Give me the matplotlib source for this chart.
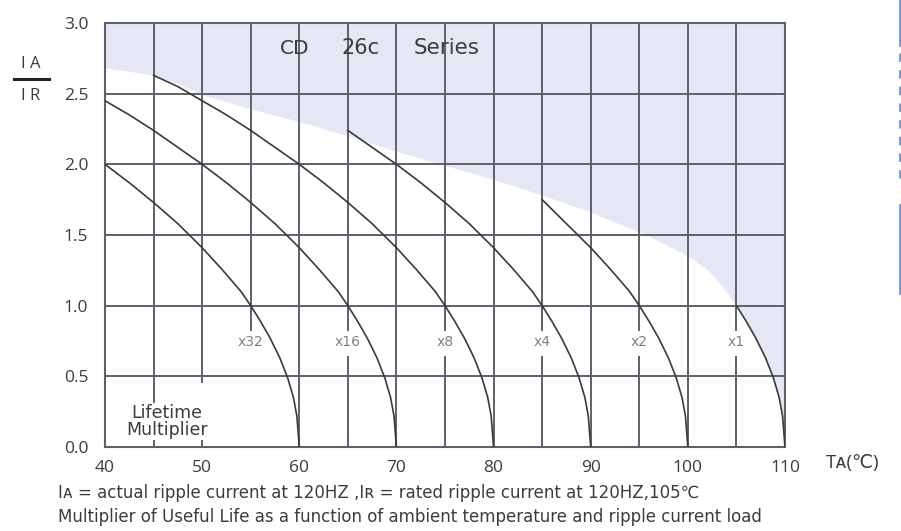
import matplotlib
matplotlib.use("Agg")
import matplotlib.pyplot as plt
from matplotlib.lines import Line2D

plt.rcParams['font.family'] = ['Open Sans', 'DejaVu Sans']
wide = ['DejaVu Sans']

# Curves: ambient temperature (C) vs IA/IR
t_x32 = [40, 42.5, 45, 47.5, 50, 52, 54, 55, 56, 57, 58, 58.8, 59.4, 59.75, 60]
y_x32 = [2.00, 1.87, 1.73, 1.58, 1.41, 1.26, 1.10, 1.00, 0.89, 0.77, 0.63, 0.49, 0.35, 0.22, 0.0]

t_x16 = [40, 42.5, 45, 47.5, 50, 52.5, 55, 57.5, 60, 62, 64, 65, 66, 67, 68, 68.8, 69.4, 69.75, 70]
y_x16 = [2.45, 2.35, 2.24, 2.12, 2.00, 1.87, 1.73, 1.58, 1.41, 1.26, 1.10, 1.00, 0.89, 0.77, 0.63, 0.49, 0.35, 0.22, 0.0]

t_x8 = [45, 47.5, 50, 52.5, 55, 57.5, 60, 62.5, 65, 67.5, 70, 72, 74, 75, 76, 77, 78, 78.8, 79.4, 79.75, 80]
y_x8 = [2.63, 2.55, 2.45, 2.35, 2.24, 2.12, 2.00, 1.87, 1.73, 1.58, 1.41, 1.26, 1.10, 1.00, 0.89, 0.77, 0.63, 0.49, 0.35, 0.22, 0.0]

t_x4 = [65, 67.5, 70, 72.5, 75, 77.5, 80, 82, 84, 85, 86, 87, 88, 88.8, 89.4, 89.75, 90]
y_x4 = [2.24, 2.12, 2.00, 1.87, 1.73, 1.58, 1.41, 1.26, 1.10, 1.00, 0.89, 0.77, 0.63, 0.49, 0.35, 0.22, 0.0]

t_x2 = [85, 87.5, 90, 92, 94, 95, 96, 97, 98, 98.8, 99.4, 99.75, 100]
y_x2 = [1.75, 1.58, 1.41, 1.26, 1.10, 1.00, 0.89, 0.77, 0.63, 0.49, 0.35, 0.22, 0.0]

t_x1 = [105, 106, 107, 108, 108.8, 109.4, 109.75, 110]
y_x1 = [1.00, 0.89, 0.77, 0.63, 0.49, 0.35, 0.22, 0.0]

curves = [(t_x32, y_x32), (t_x16, y_x16), (t_x8, y_x8),
          (t_x4, y_x4), (t_x2, y_x2), (t_x1, y_x1)]

# upper edge of the white (allowed) region, then it follows the x1 curve
t_env = [40, 45, 47.5, 50, 55, 60, 65, 70, 75, 80, 85, 90, 92.5, 95, 97.5, 100, 101.5, 102.5, 103.5, 104.3, 105]
y_env = [2.68, 2.63, 2.57, 2.49, 2.39, 2.30, 2.20, 2.09, 1.99, 1.89, 1.78, 1.66, 1.59, 1.52, 1.44, 1.35, 1.28, 1.22, 1.14, 1.07, 1.00]

labels = ['x32', 'x16', 'x8', 'x4', 'x2', 'x1']
label_t = [55, 65, 75, 85, 95, 105]
label_y = 0.74

x_ticks = [40, 50, 60, 70, 80, 90, 100, 110]
y_ticks = [0.0, 0.5, 1.0, 1.5, 2.0, 2.5, 3.0]

grid_col = '#5d616c'
curve_col = '#3a3a3a'
text_col = '#3c3c3c'

fig = plt.figure(figsize=(9.01, 5.31), dpi=100)
ax = fig.add_axes([105/901, 84/531, 680/901, 424/531])
ax.set_xlim(40, 110)
ax.set_ylim(0, 3.0)

# shaded region above the envelope
shade_t = [40] + t_env + t_x1[1:] + [110, 110, 40]
shade_y = [3.0] + y_env + y_x1[1:] + [0.0, 3.0, 3.0]
ax.fill(shade_t, shade_y, color='#e6e7f5', lw=0, zorder=0)

# grid lines (some interrupted by the labels)
for yv in [0.5, 1.0, 1.5, 2.0, 2.5]:
    ax.axhline(yv, color=grid_col, lw=1.4, zorder=1)
for xv in range(45, 110, 5):
    if xv == 45:
        ax.plot([xv, xv], [0, 0.04], color=grid_col, lw=1.4, zorder=1)
        ax.plot([xv, xv], [0.32, 3.0], color=grid_col, lw=1.4, zorder=1)
    elif xv == 50:
        ax.plot([xv, xv], [0, 0.04], color=grid_col, lw=1.4, zorder=1)
        ax.plot([xv, xv], [0.46, 3.0], color=grid_col, lw=1.4, zorder=1)
    elif xv == 55:
        ax.plot([xv, xv], [0.83, 3.0], color=grid_col, lw=1.4, zorder=1)
    elif xv in label_t:
        ax.plot([xv, xv], [0, 0.64], color=grid_col, lw=1.4, zorder=1)
        ax.plot([xv, xv], [0.83, 3.0], color=grid_col, lw=1.4, zorder=1)
    else:
        ax.axvline(xv, color=grid_col, lw=1.4, zorder=1)

for s in ax.spines.values():
    s.set_color(grid_col)
    s.set_linewidth(1.5)

for t, y in curves:
    ax.plot(t, y, color=curve_col, lw=1.2, zorder=3)

for lab, xv in zip(labels, label_t):
    ax.text(xv, label_y, lab, ha='center', va='center', fontsize=10,
            color='#808080', family=wide, zorder=2)

ax.text(46.4, 0.18, 'Lifetime\nMultiplier', ha='center', va='center',
        fontsize=12.5, color=text_col, family=wide, linespacing=0.95, zorder=2)

ax.text(59.5, 2.82, 'CD', ha='center', va='center', fontsize=14.5, color=text_col, family=wide)
ax.text(66.3, 2.82, '26c', ha='center', va='center', fontsize=15, color=text_col, family=wide)
ax.text(75.2, 2.82, 'Series', ha='center', va='center', fontsize=15.5, color=text_col, family=wide)

ax.set_xticks(x_ticks)
ax.set_yticks(y_ticks)
ax.set_xticklabels([str(v) for v in x_ticks])
ax.set_yticklabels(['%.1f' % v for v in y_ticks])
ax.tick_params(length=0, labelsize=12.5, labelcolor=text_col)
ax.tick_params(axis='x', pad=9)
ax.tick_params(axis='y', pad=12)

# y label as a fraction IA / IR
fig.text(31/901, 1 - 64/531, 'I A', ha='center', va='center', fontsize=12, color=text_col)
fig.add_artist(Line2D([14/901, 49/901], [1 - 79/531, 1 - 79/531], color='#222222', lw=2.2))
fig.text(31/901, 1 - 96/531, 'I R', ha='center', va='center', fontsize=12, color=text_col)

fig.text(826/901, 1 - 463/531, 'Tᴀ(℃)', ha='left', va='center', fontsize=13.5, color=text_col)

fig.text(58/901, 1 - 493/531,
         'Iᴀ = actual ripple current at 120HZ ,Iʀ = rated ripple current at 120HZ,105℃',
         ha='left', va='center', fontsize=12, color=text_col, family=wide)
fig.text(58/901, 1 - 517/531,
         'Multiplier of Useful Life as a function of ambient temperature and ripple current load',
         ha='left', va='center', fontsize=12, color=text_col, family=wide)

# cropped edge of a neighbouring element on the right
blue = '#6f93dc'
fig.add_artist(Line2D([900/901, 900/901], [1, 1 - 45/531], color=blue, lw=2))
fig.add_artist(Line2D([900/901, 900/901], [1 - 53/531, 1 - 185/531], color=blue, lw=2, ls=(0, (3, 3))))
fig.add_artist(Line2D([900/901, 900/901], [1 - 205/531, 1 - 293/531], color=blue, lw=2))

fig.savefig('out.png', dpi=100)
